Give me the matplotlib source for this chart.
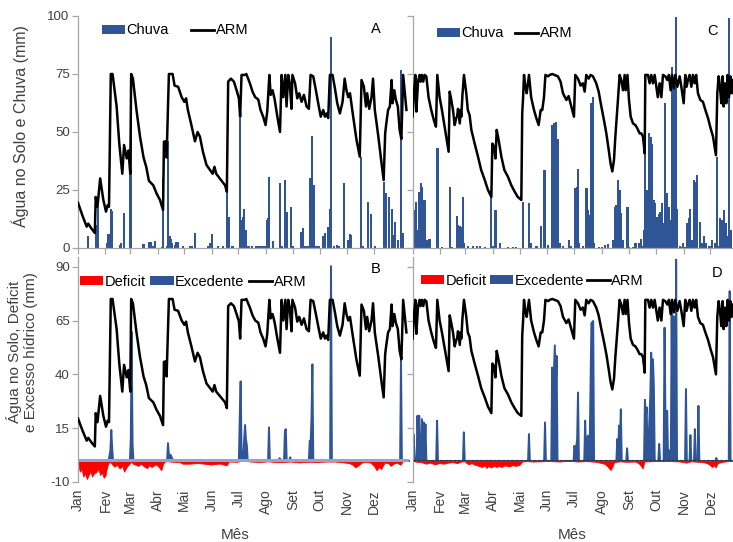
import matplotlib
matplotlib.use('Agg')
import matplotlib.pyplot as plt
from matplotlib.patches import Patch
from matplotlib.lines import Line2D

plt.rcParams['font.family'] = ['Liberation Sans', 'DejaVu Sans']

# ---------------- data ----------------
months = ['Jan', 'Fev', 'Mar', 'Abr', 'Mai', 'Jun', 'Jul', 'Ago', 'Set', 'Out', 'Nov', 'Dez']
month_start_day = [0, 31, 59, 90, 120, 151, 181, 212, 243, 273, 304, 334]

# Panel A / B : soil water storage (ARM)
arm_ab_day = [0, 5, 9.8, 11.6, 15, 19, 20, 22, 25, 28.6, 31.6, 33.5, 35, 37, 39, 43.6, 46.6, 50, 52, 55, 57, 59,
              60, 62, 66, 70, 74, 77, 80, 85, 88.7, 92.5, 96, 97, 99, 100, 102.6, 106.8, 109, 113, 117, 120, 122,
              124, 128, 132, 135, 137.6, 141, 145, 149, 152, 154, 156, 162, 166, 168, 169.5, 172.6, 176, 179,
              181.6, 183, 184.6, 188.4, 190, 194, 197, 200, 203.5, 206, 209, 211.7, 213.6, 216, 217.4, 219.6,
              222, 225, 228, 229.8, 231.7, 234, 235.4, 237.3, 239, 241, 242, 245, 247.5, 249.7, 252.4, 255, 258,
              260.6, 262.5, 265.5, 268.5, 271.5, 274, 276.8, 278.7, 280.5, 282.4, 284.3, 287.3, 290, 292.6,
              295.6, 298.6, 301, 303, 305, 307, 310.6, 314.4, 318, 320, 322.7, 325, 326.4, 328.7, 331.3, 333,
              335, 339, 342.6, 345, 346.7, 348, 350, 352, 354, 355, 357, 358.7, 361, 363, 365, 367, 369, 370.7]
arm_ab_val = [19.5, 14, 9.2, 10.5, 8.5, 6.5, 22, 17.8, 30, 20.7, 15.7, 18.5, 17.8, 75, 75, 61, 45, 32, 44.4, 38.6,
              42, 32, 75, 73, 59.5, 48, 39, 35, 29, 27, 23.5, 20.7, 16.4, 45.8, 46, 39, 75, 75, 70, 69.5, 65, 63,
              64.5, 59.5, 53, 46, 50, 48, 41.5, 35.8, 33.6, 32, 35, 32, 29, 27, 24.3, 71.7, 73, 71.7, 68, 64.5,
              56.6, 74.6, 74.6, 75, 71, 67.4, 65, 64, 59.5, 56.6, 53, 58.8, 74.6, 66, 68, 64, 56.6, 50, 74.6, 65,
              74.6, 61, 74.6, 71, 60, 74.6, 71, 64.5, 66.7, 63, 66, 61, 60, 74.6, 74, 68, 61.6, 56.6, 59.5, 56.6,
              58, 56, 74.6, 74.6, 68.8, 62.4, 58, 63, 73, 68, 65, 66.7, 56.6, 46.5, 39.4, 72.4, 69.5, 61, 66.7,
              60, 65, 73, 59.5, 48, 36.5, 29.3, 49.4, 53.7, 59.5, 61, 72.4, 62.4, 68, 64, 61, 51, 47, 74.6, 66.7,
              59.5]

# Panel A : daily rainfall
rain_a_day = [11, 20, 22, 23, 33, 34, 35, 37, 38, 47, 48, 49, 52, 59, 60, 74, 80, 82, 85, 87, 95, 96, 100, 102,
              103, 104, 105, 106, 109, 111, 113, 119, 126, 129, 132, 147, 149, 151, 158, 164, 168, 170, 174, 175,
              183, 185, 186, 187, 189, 191, 193, 196, 201, 203, 205, 207, 209, 211, 213, 214, 216, 220, 228, 230,
              234, 236, 240, 243, 252, 254, 256, 258, 260, 262, 264, 266, 268, 270, 272, 277, 279, 282, 284, 286,
              289, 292, 294, 300, 305, 307, 308, 319, 322, 327, 331, 335, 345, 348, 351, 354, 356, 358, 361, 365,
              367]
rain_a_val = [5.2, 10, 3, 17.8, 2, 6, 6, 17, 16, 1, 1.5, 2, 15.2, 33, 61, 1.6, 2.5, 2.5, 1, 3, 0.5, 30, 1, 46,
              5, 5, 4, 2, 1.5, 2.5, 2.5, 1, 1, 1, 6.3, 1, 2, 6, 1, 1, 36, 13.5, 1, 1,
              56, 12, 13.5, 17, 7.8, 1, 1, 1, 1, 1, 1, 1, 1, 1, 12, 12.8, 30.7, 3, 27.9, 1,
              29.3, 15.7, 17.8, 1, 7, 8.5, 1, 1, 1, 30, 48.3, 27, 1, 1, 1, 5, 6.3, 9, 17, 91,
              1, 1.5, 1, 28, 3.5, 6, 5.6, 39.4, 1, 20, 14.7, 1, 28.6, 23.6, 22, 16.7, 5.6, 11.4, 3.4, 76.7,
              6.3]

# Panel B : surplus (excedente) and deficit
exc_b_day = [0, 34, 36, 37, 38, 39, 58, 59, 60, 61, 62, 100, 101, 102, 104, 106, 107, 181, 182, 183, 184, 186,
             187, 188, 189, 190, 191, 214, 215, 216, 226, 227, 228, 232, 233, 234, 235, 238, 239, 240, 260, 261,
             262, 263, 264, 265, 284, 285, 286, 363, 364, 365, 373]
exc_b_val = [0, 0, 5, 14.4, 6, 0, 0, 10, 60, 8, 0, 0, 8.3, 3, 2.8, 1, 0, 0, 20, 37, 5, 2, 10, 16.7, 10, 7.4, 0,
             0, 15.6, 0, 0, 1.3, 0, 0, 14, 14.8, 0, 0, 1.7, 0, 0, 9.4, 8, 20, 44.9, 0, 0, 90.5, 0, 0, 47.5, 0, 0]

def_b_day = [0, 1, 2, 4, 6, 8, 10, 12, 14, 16, 18, 21, 23, 25, 27, 29, 31, 32, 34, 36, 38, 41, 44, 47, 50, 52,
             55, 58, 60, 62, 65, 68, 71, 75, 78, 80, 83, 85, 88, 91, 94, 96, 98, 100, 104, 115, 118, 125, 135,
             145, 150, 160, 165, 168, 170, 180, 185, 195, 205, 215, 225, 240, 250, 260, 270, 280, 290, 300, 306,
             310, 313, 316, 320, 325, 330, 334, 337, 340, 342, 344, 346, 350, 353, 356, 360, 364, 366, 373]
def_b_val = [0, -3, -5.2, -4, -7.5, -6, -8.6, -6.8, -5, -7.5, -6, -5.2, -4, -6.8, -5.5, -8, -7, -4.5, -1.4, -0.5,
             -1.5, -2.9, -2, -3.7, -2.5, -5.2, -3, -1.5, -0.5, -1.5, -2, -2.5, -1.5, -2.9, -3.5, -2.2, -3, -2.5,
             -1.8, -3, -4.5, -1.5, -0.5, -0.3, -0.5, -0.8, -1.5, -1.5, -1.2, -1.6, -1.9, -1.4, -2, -2.2, -0.5,
             -0.6, 0, -0.5, -0.7, -0.4, -0.8, -0.5, -0.9, -0.6, -0.7, -0.5, -0.5, -0.9, -1.2, -2, -3.2, -2.4, -1,
             -0.6, -1, -2.5, -4.5, -3, -4, -2.5, -1, -1.2, -2.5, -1.5, -1, -2, -0.5, 0]

# Panel C / D : soil water storage (ARM)
arm_cd_day = [0, 1.7, 3.2, 4.3, 6.2, 8, 9, 10.6, 12, 13.6, 15.5, 18, 21, 24, 26.3, 27.8, 30.4, 33, 36, 39, 40.5,
              41.7, 43.5, 45.4, 47.3, 49, 50, 51, 53, 54, 54.7, 56, 57.7, 60.3, 62, 64, 66, 69.7, 73.4, 77, 81,
              84.6, 87.3, 88.4, 89.5, 91.4, 93, 94.4, 96.6, 99.6, 103, 107, 110.8, 114.5, 118, 122, 123, 124, 125,
              126.5, 128, 130.6, 133, 136.2, 138.8, 141.4, 143.7, 145.5, 147.4, 149, 152, 153.8, 156.8, 159.4,
              163, 166, 168.7, 172.5, 175, 178, 181, 182.5, 185.5, 188.5, 191, 193, 194.8, 197.5, 199.7, 202.3,
              206, 208.7, 211.7, 214.7, 217.3, 220, 222, 224, 225.9, 227.4, 229, 230.3, 232.2, 234, 236, 237.8,
              239, 241, 242.7, 244.6, 247.2, 249.8, 252, 254.6, 256.5, 258.4, 260.3, 261, 264, 265.8, 267.7,
              269.6, 271.5, 273.3, 275, 277, 279, 280.8, 283.4, 285.7, 287.5, 289.4, 291, 293, 294.6, 296.9,
              299.5, 301.4, 304, 305.8, 307.3, 308.8, 310.7, 312.6, 314.4, 316.3, 318, 320, 322.7, 325.6, 328.3,
              331.3, 334.2, 336.9, 338.7, 340.2, 341.7, 343.2, 344.7, 346.2, 347.7, 348.8, 350.3, 351.8, 353.3,
              354.8, 356.3, 357.8, 359.3]
arm_cd_val = [56.6, 67.4, 74.6, 58.8, 71.7, 74.6, 71.7, 74.6, 71.7, 74.6, 74, 65, 59.5, 55, 52.3, 74.6, 65, 59.5,
              52.3, 45, 41.5, 67.4, 63.8, 59.5, 53, 56, 56.6, 60, 53.7, 59.5, 56.6, 66, 74.6, 66.7, 59.5, 57.3,
              50.9, 45, 39.4, 33.6, 29.3, 25, 22.8, 22, 45, 43.7, 38.6, 50.9, 46.5, 39.4, 33.6, 30.7, 27, 24.3, 22,
              20.7, 58, 65, 74.6, 69.5, 66.7, 74.6, 65, 59.5, 56, 53, 59.5, 59.5, 65, 74.6, 74, 74.6, 75, 74.6, 74,
              71.7, 66.7, 63.8, 65.5, 61, 56.6, 74.6, 73, 70, 71, 67.4, 74.6, 73, 74.6, 74, 71, 67.4, 61, 55, 49.4,
              42.2, 36.5, 33, 38, 48, 56.6, 63.8, 74.6, 72.4, 68, 74.6, 68, 74.6, 63.8, 56.6, 53.7, 53, 51.6, 49.4,
              49.4, 48, 40.8, 74.6, 74.6, 71, 74.6, 71, 74.6, 69.5, 65, 71, 65, 74.6, 74, 72.4, 74.6, 68, 74.6,
              68.8, 74.6, 69.5, 74, 69.5, 62.4, 74.6, 69.5, 72.4, 74.6, 69.5, 74.6, 71, 74.6, 66.7, 63.8, 63,
              59.5, 56, 51.6, 48, 43.7, 40, 66.7, 74, 69.5, 62.4, 74, 61, 71, 62.4, 74.6, 65, 74, 66.7, 72.4]

# Panel C : daily rainfall
rain_c_day = [1, 3, 4, 5, 7, 8, 10, 11, 13, 14, 16, 17, 19, 20, 28, 29, 33, 42, 44, 50, 51, 53, 55, 57, 58, 62,
              68, 72, 76, 81, 88, 90, 93, 98, 107, 113, 116, 124, 131, 133, 139, 144, 148, 152, 156, 157, 159,
              161, 163, 165, 169, 175, 178, 182, 184, 186, 187, 191, 195, 197, 199, 200, 202, 203, 209, 212, 216,
              219, 225, 227, 228, 230, 232, 234, 236, 241, 243, 247, 249, 251, 254, 256, 258, 260, 261, 263, 265,
              267, 268, 271, 272, 274, 276, 278, 280, 282, 283, 285, 287, 289, 291, 293, 295, 297, 300, 301, 303,
              305, 308, 310, 311, 313, 316, 317, 319, 322, 325, 327, 329, 333, 336, 339, 341, 342, 345, 347, 349,
              351, 352, 355, 357]
rain_c_val = [33, 16.4, 20, 7.8, 24.3, 22, 27.9, 26.4, 20.7, 20.7, 3.4, 3.4, 3.7, 3.7, 43, 7.8, 0.3, 26.4, 0.5,
              13.8, 10, 9.5, 9.2, 22, 2, 1, 0.7, 0.7, 0.7, 0.5, 25, 0.7, 16.4, 2, 0.5, 0.3, 0.5, 20, 19.3, 2, 1,
              9.5, 33.6, 1.5, 2, 53, 54, 54.5, 47, 2, 1, 3.4, 1, 25.7, 26.4, 33.9, 2, 1, 25.7, 16.4, 14.2, 62.4,
              65, 2, 0.3, 0.3, 1.3, 1.7, 3.4, 17.8, 18.5, 29.3, 25, 15, 3.4, 17.5, 0.3, 0.5, 2, 2, 2, 4, 0.7, 7.8,
              63.8, 25, 49.4, 48, 45, 20.7, 19.3, 13.5, 14.7, 15.7, 19.3, 10.6, 62.4, 23.6, 17.8, 12, 78, 69.5,
              99.7, 17, 0.7, 0.5, 2, 0.5, 10.6, 12.8, 17, 3.4, 29.3, 28.6, 31.5, 11.4, 2, 5, 2, 1, 3.4, 2, 39.4,
              0.7, 12.8, 12, 16.4, 10.6, 5, 99, 7.8]

# Panel D : surplus (excedente) and deficit
exc_d_day = [0, 0.5, 2, 4, 5, 6, 7, 8, 9, 10, 11, 12, 13, 14, 15, 26, 27, 28, 56, 57, 58, 129, 130, 131, 147,
             148, 149, 155, 156, 157, 159, 160, 161, 162, 180, 181, 182, 184, 185, 186, 192, 193, 194, 196, 197,
             198, 200, 202, 203, 228, 229, 230, 231, 232, 233, 234, 239, 240, 241, 259, 260, 261, 262, 263, 264,
             266, 267, 268, 269, 270, 271, 275, 276, 277, 281, 282, 283, 285, 286, 287, 289, 290, 291, 292, 293,
             294, 295, 296, 305, 306, 307, 310, 311, 312, 315, 316, 317, 319, 320, 321, 339, 340, 341, 354, 355,
             356, 359]
exc_d_val = [0, 12.5, 0, 0, 21, 5, 21, 0, 0, 19.4, 3, 17.9, 5, 17, 0, 0, 18.7, 0, 0, 13.3, 0, 0, 12.5, 0, 0,
             17.9, 0, 0, 43.4, 30, 53.7, 30, 48.8, 0, 0, 7, 3, 10.2, 31.8, 0, 0, 18.7, 5, 11.7, 11.7, 5, 64, 65,
             0, 0, 10.2, 5, 16.4, 10, 24, 0, 0, 5.9, 0, 0, 28.4, 20, 24.9, 0, 8, 30, 50.3, 40, 47.2, 35, 0, 0,
             7.9, 0, 0, 61.9, 20, 23.3, 0, 5, 0, 71.1, 10, 67.3, 10, 0, 93.5, 0, 0, 33.4, 0, 0, 12, 0, 0, 14.8,
             0, 0, 25.6, 0, 0, 1.4, 0, 0, 78.9, 0, 0]

def_d_day = [0, 3, 10, 15, 20, 25, 30, 35, 40, 45, 50, 55, 58, 60, 63, 66, 70, 74, 78, 81, 83, 85, 88, 91, 94, 97,
             100, 104, 108, 112, 116, 120, 123, 128, 135, 145, 150, 165, 170, 178, 185, 195, 205, 210, 215, 218,
             220, 222, 224, 226, 232, 240, 250, 254, 256, 258, 260, 270, 285, 300, 307, 312, 320, 326, 330, 333,
             336, 338, 340, 342, 346, 350, 355, 359]
def_d_val = [0, -0.5, -0.8, -1.5, -1, -1.8, -1.2, -1.5, -1, -0.8, -1.2, -0.5, -0.3, -1, -1.8, -1.2, -2, -2.5, -3,
             -2.2, -3.5, -2.5, -3.3, -2.4, -3, -2.6, -3, -2.2, -2.8, -2.2, -2.5, -2, -0.5, -0.3, -0.5, -0.4, -0.2,
             -0.5, -0.3, -0.2, -0.5, -0.3, -0.6, -1, -1.5, -2.5, -3.5, -4.4, -3, -0.8, -0.4, -0.6, -0.5, -1.5,
             -2.5, -3.7, -0.5, -0.3, -0.2, -0.5, -1, -0.4, -0.6, -0.8, -1.2, -2, -3, -2.2, -3.2, -1.2, -0.8, -0.5,
             -0.3, 0]

top_ticks = [0, 25, 50, 75, 100]
bottom_ticks = [-10, 15, 40, 65, 90]

# ---------------- styling ----------------
BLUE = '#2F5597'
RED = '#FF0000'
GREY = '#A6A6A6'
TXT = '#404040'
W, H = 733, 542

fig = plt.figure(figsize=(W / 100, H / 100), dpi=100)


def ax_px(l, r, t, b):
    return fig.add_axes([l / W, 1 - b / H, (r - l) / W, (b - t) / H])


axA = ax_px(78, 409, 16, 248)
axC = ax_px(412.5, 733, 16, 248)
axB = ax_px(78, 409, 257, 482)
axD = ax_px(412.5, 733, 257, 482)

for ax in (axA, axB, axC, axD):
    ax.set_facecolor('none')
    for s in ('top', 'right'):
        ax.spines[s].set_visible(False)
    ax.spines['left'].set_color(GREY)
    ax.spines['left'].set_linewidth(0.9)
    ax.spines['bottom'].set_color(GREY)
    ax.spines['bottom'].set_linewidth(0.9)
    ax.tick_params(axis='y', direction='out', length=4, width=0.9, color=GREY,
                   labelsize=9.5, labelcolor=TXT, pad=2)

axA.set_xlim(0, 373.6)
axB.set_xlim(0, 373.6)
axC.set_xlim(0, 359.3)
axD.set_xlim(0, 359.3)

# top panels: rain bars + ARM
for ax, rd, rv, ad, av in ((axA, rain_a_day, rain_a_val, arm_ab_day, arm_ab_val),
                           (axC, rain_c_day, rain_c_val, arm_cd_day, arm_cd_val)):
    ax.bar(rd, rv, width=2.4, color=BLUE, linewidth=0, zorder=2)
    ax.plot(ad, av, color='black', lw=1.8, zorder=3)
    ax.set_ylim(0, 100)
    ax.set_yticks(top_ticks)
    ax.set_xticks(month_start_day)
    ax.set_xticklabels([])
    ax.tick_params(axis='x', direction='out', length=4, width=0.9, color=GREY)

axA.set_yticklabels([str(t) for t in top_ticks])
axC.set_yticklabels([])

# bottom panels: deficit, surplus, ARM
for ax, ed, ev, dd, dv, ad, av in ((axB, exc_b_day, exc_b_val, def_b_day, def_b_val, arm_ab_day, arm_ab_val),
                                   (axD, exc_d_day, exc_d_val, def_d_day, def_d_val, arm_cd_day, arm_cd_val)):
    ax.fill_between(dd, dv, 0, facecolor=RED, edgecolor=RED, linewidth=0.6, zorder=2)
    ax.fill_between(ed, 0, ev, facecolor=BLUE, edgecolor=BLUE, linewidth=1.4, zorder=2)
    ax.plot(ad, av, color='black', lw=1.8, zorder=4)
    ax.set_ylim(-10, 94.5)
    ax.set_yticks(bottom_ticks)
    ax.spines['bottom'].set_visible(False)
    ax.set_xticks(month_start_day)
    ax.set_xticklabels(months, rotation=90, fontsize=10, color=TXT)
    ax.tick_params(axis='x', length=0, pad=5)

axB.set_yticklabels([str(t) for t in bottom_ticks])
axD.set_yticklabels([])
axB.axhline(0, color='#8EA6CF', lw=2.2, zorder=3)
axD.axhline(0, color='#333333', lw=0.8, ls=(0, (2.5, 1.5)), zorder=3)

# legends
h_rain = Patch(facecolor=BLUE, edgecolor='none')
h_def = Patch(facecolor=RED, edgecolor='none')
h_exc = Patch(facecolor=BLUE, edgecolor='none')
h_arm = Line2D([], [], color='black', lw=2)


def add_leg(ax, handles, labels, x, y, colsp):
    ax.legend(handles, labels, loc='center left', bbox_to_anchor=(x / W, 1 - y / H),
              bbox_transform=fig.transFigure, ncol=len(handles), frameon=False, fontsize=10.5,
              handlelength=1.6, handleheight=0.55, handletextpad=0.1, columnspacing=colsp,
              borderpad=0, borderaxespad=0)


add_leg(axA, [h_rain, h_arm], ['Chuva', 'ARM'], 101.7, 30.5, 1.5)
add_leg(axC, [h_rain, h_arm], ['Chuva', 'ARM'], 436.7, 33.3, 0.75)
add_leg(axB, [h_def, h_exc, h_arm], ['Deficit', 'Excedente', 'ARM'], 80, 281.7, 0.3)
add_leg(axD, [h_def, h_exc, h_arm], ['Deficit', 'Excedente', 'ARM'], 420.7, 280.7, 0.2)

# panel letters
for lt, x, y in (('A', 375.7, 29.3), ('C', 712.7, 30.7), ('B', 376, 269.3), ('D', 717.3, 273.3)):
    fig.text(x / W, 1 - y / H, lt, ha='center', va='center', fontsize=10.5, color='black')

# axis titles
fig.text(20 / W, 1 - 126 / H, 'Água no Solo e Chuva (mm)', rotation=90, ha='center', va='center',
         fontsize=11.5, color=TXT)
fig.text(22 / W, 1 - 352 / H, 'Água no Solo, Deficit\ne Excesso hídrico (mm)', rotation=90, ha='center',
         va='center', fontsize=11, linespacing=1.1, multialignment='center', color=TXT)
fig.text(235 / W, 1 - 535 / H, 'Mês', ha='center', va='center', fontsize=11, color=TXT)
fig.text(572 / W, 1 - 535 / H, 'Mês', ha='center', va='center', fontsize=11, color=TXT)

fig.savefig('out.png', dpi=100)
